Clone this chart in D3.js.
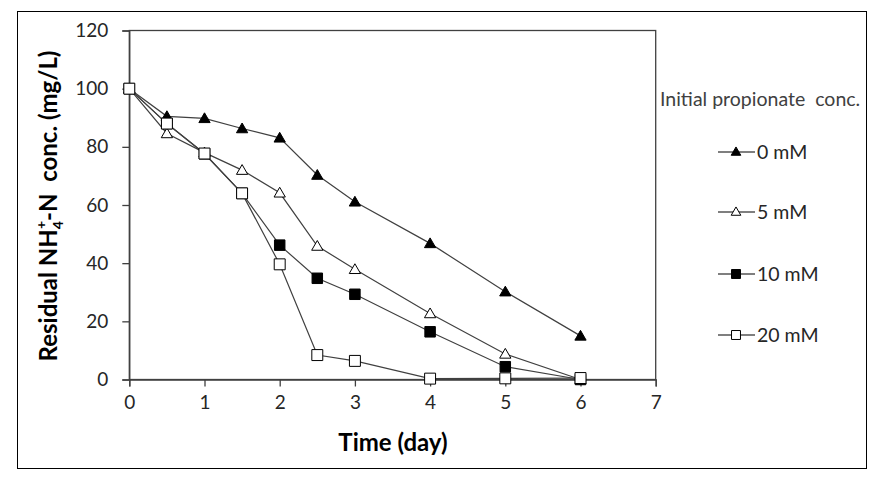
<!DOCTYPE html>
<html><head><meta charset="utf-8">
<script src="https://cdn.jsdelivr.net/npm/d3@7"></script>
<style>
html,body{margin:0;padding:0;background:#fff;}
text{font-family:Lato,"Open Sans",sans-serif;}
</style></head>
<body>
<svg id="c" width="882" height="478"></svg>
<script>
const times = [0, 0.5, 1, 1.5, 2, 2.5, 3, 4, 5, 6];
const series0mM  = [100, 90.5, 89.8, 86.3, 83.1, 70.3, 61.1, 46.8, 30.2, 15.0];
const series5mM  = [100, 84.6, 78.0, 72.0, 64.2, 45.9, 37.9, 22.7, 8.8, 0.0];
const series10mM = [100, 88.0, 77.6, 64.0, 46.2, 34.8, 29.3, 16.4, 4.4, 0.0];
const series20mM = [100, 88.0, 77.7, 64.0, 39.6, 8.4, 6.4, 0.3, 0.4, 0.5];
const seriesNames = ["0 mM", "5 mM", "10 mM", "20 mM"];
const markerTypes = ["triFilled", "triOpen", "sqFilled", "sqOpen"];
const xTicks = [0, 1, 2, 3, 4, 5, 6, 7];
const yTicks = [0, 20, 40, 60, 80, 100, 120];
const legendTitle = "Initial propionate  conc.";

const allSeries = [series0mM, series5mM, series10mM, series20mM];
const svg = d3.select("#c");
const m = {l: 129.3, t: 30.5, r: 655.7, b: 379.5};
const x = d3.scaleLinear().domain([0, 7]).range([m.l, m.r]);
const y = d3.scaleLinear().domain([0, 120]).range([m.b, m.t]);
const dark = "#404040";

// outer frame
svg.append("rect").attr("x", 17.5).attr("y", 11.5).attr("width", 849).attr("height", 457)
  .attr("fill", "none").attr("stroke", "#000").attr("stroke-width", 1);

// plot box
svg.append("rect").attr("x", m.l).attr("y", m.t).attr("width", m.r - m.l).attr("height", m.b - m.t)
  .attr("fill", "none").attr("stroke", dark).attr("stroke-width", 1.3);

// axes
const xAxis = svg.append("g").attr("transform", `translate(0,${m.b})`)
  .call(d3.axisBottom(x).tickValues(xTicks).tickSize(7).tickPadding(9).tickFormat(d3.format("d")));
const yAxis = svg.append("g").attr("transform", `translate(${m.l},0)`)
  .call(d3.axisLeft(y).tickValues(yTicks).tickSize(7).tickPadding(14).tickFormat(d3.format("d")));
[xAxis, yAxis].forEach(a => {
  a.select(".domain").attr("stroke", dark).attr("stroke-width", 1.3);
  a.selectAll(".tick line").attr("stroke", dark).attr("stroke-width", 1.3);
  a.selectAll(".tick text").attr("fill", "#262626").style("font-size", "19px").style("font-family", "Lato");
});

// axis titles
svg.append("text").attr("x", 393).attr("y", 451).attr("text-anchor", "middle")
  .style("font-size", "24px").style("font-weight", "bold").attr("fill", "#000").text("Time (day)");

const yt = svg.append("text").attr("transform", "translate(57,206) rotate(-90)")
  .attr("text-anchor", "middle").style("font-size", "24px").style("font-weight", "bold")
  .attr("fill", "#000").attr("xml:space", "preserve").style("white-space", "pre");
yt.append("tspan").text("Residual NH");
yt.append("tspan").attr("dy", 6).style("font-size", "14px").text("4");
yt.append("tspan").attr("dx", -8).attr("dy", -17).style("font-size", "14px").text("+");
yt.append("tspan").attr("dy", 11).text("-N  conc. (mg/L)");

// markers
const sym = {
  triFilled: {shape: d3.symbolTriangle, size: 55, fill: "#000"},
  triOpen:   {shape: d3.symbolTriangle, size: 55, fill: "#fff"},
  sqFilled:  {shape: d3.symbolSquare,   size: 110, fill: "#000"},
  sqOpen:    {shape: d3.symbolSquare,   size: 120, fill: "#fff"}
};
const line = d3.line().x(d => x(d[0])).y(d => y(d[1]));

allSeries.forEach((vals) => {
  const pts = times.map((t, k) => [t, vals[k]]);
  svg.append("path").datum(pts).attr("d", line).attr("fill", "none")
    .attr("stroke", dark).attr("stroke-width", 1.2);
});
allSeries.forEach((vals, i) => {
  const s = sym[markerTypes[i]];
  const pts = times.map((t, k) => [t, vals[k]]);
  svg.append("g").selectAll("path").data(pts).join("path")
    .attr("transform", d => `translate(${x(d[0])},${y(d[1]) + (s.shape === d3.symbolTriangle ? 1 : 0)})`)
    .attr("d", d3.symbol().type(s.shape).size(s.size))
    .attr("fill", s.fill).attr("stroke", "#000").attr("stroke-width", 1);
});

// legend
svg.append("text").attr("x", 660).attr("y", 106).style("font-size", "19.5px")
  .attr("fill", "#404040").attr("xml:space", "preserve").style("white-space", "pre").text(legendTitle);
const legY = [152, 212, 274, 335];
seriesNames.forEach((nm, i) => {
  const s = sym[markerTypes[i]];
  const g = svg.append("g");
  g.append("line").attr("x1", 718).attr("x2", 755).attr("y1", legY[i]).attr("y2", legY[i])
    .attr("stroke", "#000").attr("stroke-width", 1.2);
  g.append("path").attr("transform", `translate(736,${legY[i] + (s.shape === d3.symbolTriangle ? 0.5 : 0)})`)
    .attr("d", d3.symbol().type(s.shape).size(s.shape === d3.symbolTriangle ? 40 : 80))
    .attr("fill", s.fill).attr("stroke", "#000").attr("stroke-width", 1);
  g.append("text").attr("x", 757).attr("y", legY[i] + 7).style("font-size", "19.5px")
    .attr("fill", "#262626").text(nm);
});
</script>
</body></html>
